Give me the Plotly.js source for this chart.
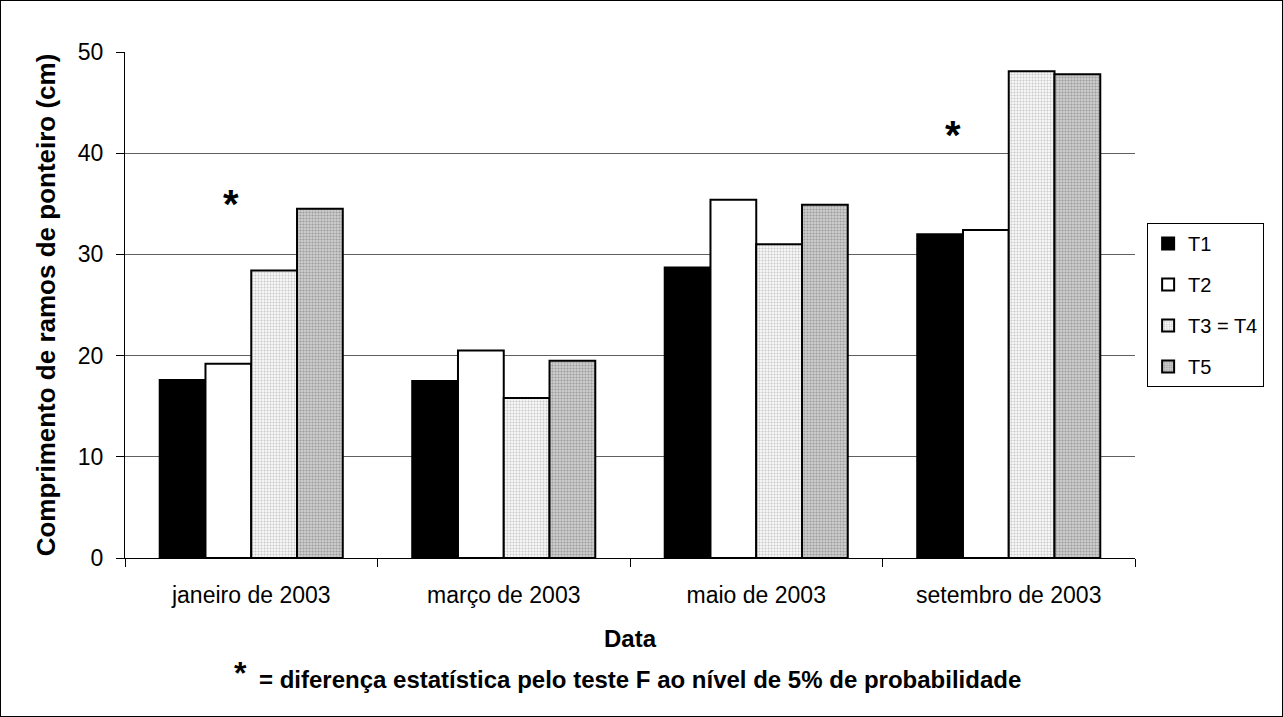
<!DOCTYPE html>
<html><head><meta charset="utf-8">
<script src="https://cdn.plot.ly/plotly-3.0.1.min.js"></script>
<style>
html,body{margin:0;padding:0;background:#fff;}
#chart{width:1283px;height:717px;box-sizing:border-box;border:1px solid #000;}
</style></head>
<body><div id="chart"></div>
<script>
const categories = ["janeiro de 2003", "março de 2003", "maio de 2003", "setembro de 2003"];
const seriesNames = ["T1", "T2", "T3 = T4", "T5"];
const T1 = [17.6, 17.5, 28.7, 32.0];
const T2 = [19.2, 20.5, 35.4, 32.4];
const T3 = [28.4, 15.8, 31.0, 48.1];
const T5 = [34.5, 19.5, 34.9, 47.8];
const yTicks = [0, 10, 20, 30, 40, 50];

const font = "Arial, 'Liberation Sans', sans-serif";
const seriesValues = [T1, T2, T3, T5];
const styles = [
  {color: "#000000"},
  {color: "#ffffff"},
  {color: "#f2f2f2", pattern: {shape: ".", fgcolor: "#c8c8c8", bgcolor: "#f8f8f8", size: 3, solidity: 0.35}},
  {color: "#c0c0c0", pattern: {shape: ".", fgcolor: "#9c9c9c", bgcolor: "#cecece", size: 3, solidity: 0.4}}
];
const traces = seriesValues.map((v, i) => {
  const m = {color: styles[i].color, line: {color: "#000", width: 2}};
  if (styles[i].pattern) m.pattern = styles[i].pattern;
  return {type: "bar", name: seriesNames[i], legendgroup: "g" + i, x: categories, y: v, marker: m};
});

const layout = {
  width: 1281, height: 715,
  margin: {l: 124, r: 147, t: 51, b: 158},
  paper_bgcolor: "#fff", plot_bgcolor: "#fff",
  font: {family: font, size: 23, color: "#000"},
  barmode: "group", bargap: 0.275, bargroupgap: 0,
  showlegend: true,
  legend: {x: 1.012, xanchor: "left", y: 0.5, yanchor: "middle",
    bordercolor: "#000", borderwidth: 1, bgcolor: "#fff",
    font: {family: font, size: 20}, itemwidth: 30, tracegroupgap: 12},
  xaxis: {type: "category", showline: true, linecolor: "#000", linewidth: 1,
    ticks: "outside", tickson: "boundaries", ticklen: 8, tickcolor: "#000",
    tickfont: {family: font, size: 23}, showgrid: false, ticklabelstandoff: 16,
    title: {text: "<b>Data</b>", font: {family: font, size: 24}, standoff: 23}},
  yaxis: {range: [0, 50], tickvals: yTicks, showline: true, linecolor: "#000", linewidth: 1,
    ticks: "outside", ticklen: 8, tickcolor: "#000", showgrid: true, gridcolor: "#606060",
    gridwidth: 1, zeroline: false, tickfont: {family: font, size: 23}, ticklabelstandoff: 8,
    title: {text: "<b>Comprimento de ramos de ponteiro (cm)</b>", font: {family: font, size: 26}, standoff: 14}},
  annotations: [
    {xref: "x", yref: "y", x: -0.08, y: 35.0, text: "<b>*</b>", showarrow: false, font: {family: font, size: 40}},
    {xref: "x", yref: "y", x: 2.78, y: 41.8, text: "<b>*</b>", showarrow: false, font: {family: font, size: 40}},
    {xref: "paper", yref: "paper", x: 0.114, y: -0.266, xanchor: "center", text: "<b>*</b>", showarrow: false, font: {family: font, size: 32}},
    {xref: "paper", yref: "paper", x: 0.51, y: -0.27, xanchor: "center", text: "<b>= diferença estatística pelo teste F ao nível de 5% de probabilidade</b>", showarrow: false, font: {family: font, size: 24}}
  ]
};
Plotly.newPlot("chart", traces, layout, {displayModeBar: false, staticPlot: true});
</script></body></html>
